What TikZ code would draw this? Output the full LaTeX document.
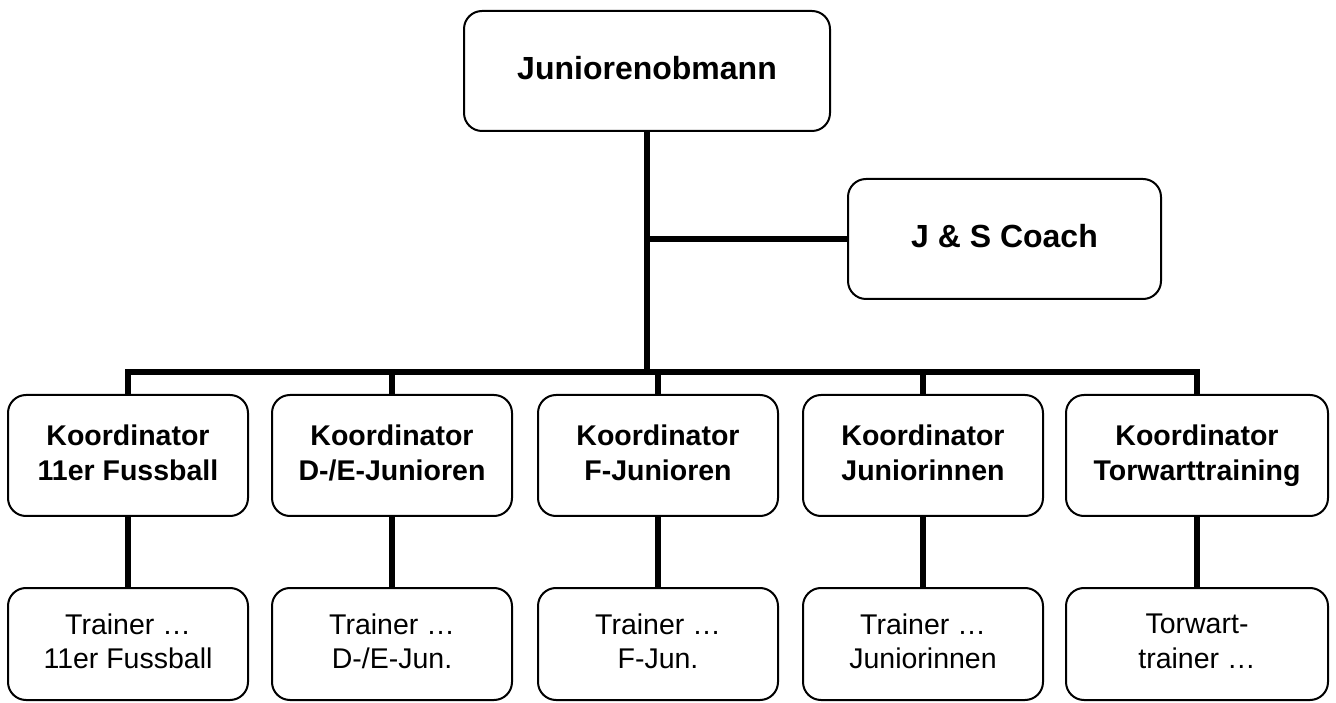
\documentclass[tikz,border=0pt]{standalone}
\usepackage{fontspec}
\setmainfont{Liberation Sans}

\begin{document}
\begin{tikzpicture}[
x=1pt, y=1pt,
box/.style={rectangle, draw, line width=2pt, rounded corners=18pt, inner sep=0pt, align=center,
  execute at end node=\vphantom{g}},
head/.style={box, minimum width=366pt, minimum height=120pt, font=\bfseries\fontsize{32}{38}\selectfont},
coach/.style={box, minimum width=313pt, minimum height=120pt, font=\bfseries\fontsize{32}{38}\selectfont},
koord/.style={box, minimum width=240pt, minimum height=121pt, font=\bfseries\fontsize{28.5}{34.5}\selectfont},
trainer/.style={box, minimum width=240pt, minimum height=112pt, font=\fontsize{28.5}{34.5}\selectfont},
conn/.style={line width=6.3pt},
]
\useasboundingbox (0,0) rectangle (1336,702);

% Leitung
\node[head] (obmann) at (647,631) {Juniorenobmann};
\node[coach] (coach) at (1004.5,463) {J \& S Coach};

% Koordinatoren
\node[koord] (k1) at (128,246.5) {Koordinator\\11er Fussball};
\node[koord] (k2) at (392,246.5) {Koordinator\\D-/E-Junioren};
\node[koord] (k3) at (658,246.5) {Koordinator\\F-Junioren};
\node[koord] (k4) at (923,246.5) {Koordinator\\Juniorinnen};
\node[koord, minimum width=262pt] (k5) at (1197,246.5) {Koordinator\\Torwarttraining};

% Trainer
\node[trainer] (t1) at (128,58) {Trainer …\\11er Fussball};
\node[trainer] (t2) at (392,58) {Trainer …\\D-/E-Jun.};
\node[trainer] (t3) at (658,58) {Trainer …\\F-Jun.};
\node[trainer] (t4) at (923,58) {Trainer …\\Juniorinnen};
\node[trainer, minimum width=262pt] (t5) at (1197,58) {Torwart-\\trainer …};

% Verbindungen
\coordinate (bar) at (647,330);
\draw[conn] (obmann.south) -- (bar);
\draw[conn] (obmann.south |- coach.west) -- (coach.west);
\draw[conn] (k1.north) -- (k1.north |- bar) -- (k5.north |- bar) -- (k5.north);
\foreach \k in {2,3,4}
  \draw[conn] (k\k.north |- bar) -- (k\k.north);
\foreach \k in {1,...,5}
  \draw[conn] (k\k.south) -- (t\k.north);

\end{tikzpicture}
\end{document}
